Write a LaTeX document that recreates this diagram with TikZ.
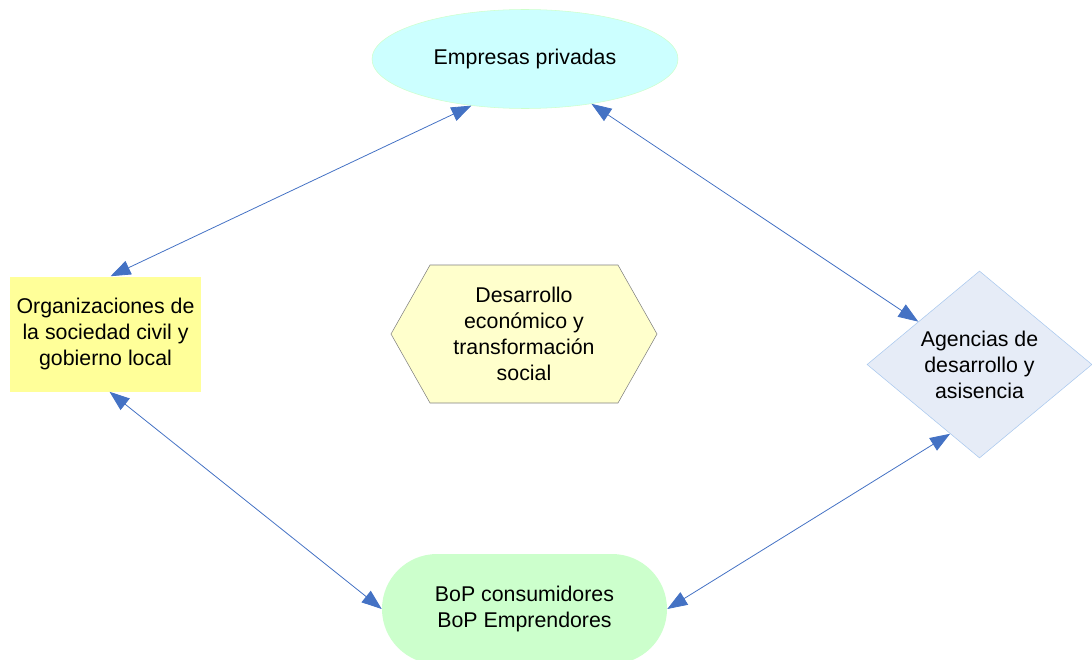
\documentclass[tikz,border=0pt]{standalone}
\usepackage{fontspec}
\setmainfont{Liberation Sans}
\usetikzlibrary{arrows.meta,shapes.geometric,shapes.symbols,shapes.misc}
\definecolor{linkblue}{HTML}{4472C4}
\definecolor{firmfill}{HTML}{CCFFFF}
\definecolor{firmline}{HTML}{CCFFCC}
\definecolor{orgfill}{HTML}{FFFF99}
\definecolor{goalfill}{HTML}{FFFFCC}
\definecolor{agencyfill}{HTML}{E6ECF7}
\definecolor{agencyline}{HTML}{A9C8EE}
\definecolor{bopfill}{HTML}{CCFFCC}

\begin{document}
\begin{tikzpicture}[x=0.75pt, y=-0.75pt,
	basic/.style  = {font=\fontsize{16}{19.5}\selectfont, align=center, inner sep=0pt},
	firm/.style   = {basic, ellipse, draw=firmline, fill=firmfill, minimum width=229.5pt, minimum height=74.25pt},
	org/.style    = {basic, rectangle, fill=orgfill, minimum width=143.25pt, minimum height=86.25pt},
	goal/.style   = {basic, signal, signal to=east and west, signal pointer angle=121, draw=gray, fill=goalfill, minimum width=199.5pt, minimum height=103.5pt},
	agency/.style = {basic, diamond, aspect=1.2, draw=agencyline, fill=agencyfill, minimum width=168.75pt, minimum height=140.25pt},
	bop/.style    = {basic, rounded rectangle, fill=bopfill, minimum width=213.75pt, minimum height=82.5pt},
	link/.style   = {draw=linkblue, line width=0.6pt, {Triangle[length=15pt,width=11pt]}-{Triangle[length=15pt,width=11pt]}}]
	
	\useasboundingbox (0,0) rectangle (1092,660);
	
	\node[firm]   (firms)    at (525,59)      {Empresas privadas};
	\node[org]    (orgs)     at (105.5,334)   {Organizaciones de\\la sociedad civil y\\gobierno local};
	\node[goal]   (goal)     at (524,334)     {Desarrollo\\econ\'omico y\\transformaci\'on\\social};
	\node[agency] (agencies) at (979.5,364.5) {Agencias de\\desarrollo y\\asisencia};
	\node[bop]    (bop)      at (524.5,609)   {BoP consumidores\\BoP Emprendores};
	
	\draw[link] (orgs.85) -- (firms.221);
	\draw[link] (firms.326) -- (agencies.145);
	\draw[link] (orgs.274) -- (bop.west);
	\draw[link] (bop.east) -- (agencies.247);
	
\end{tikzpicture}
\end{document}
